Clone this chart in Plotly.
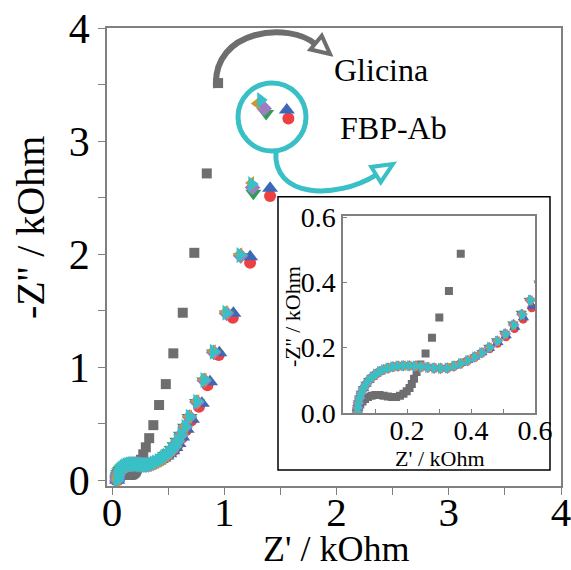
import plotly.graph_objects as go
import math

# ---------------- data (kOhm) ----------------
gly_x = [0.042, 0.045, 0.049, 0.054, 0.061, 0.069, 0.078, 0.089, 0.101, 0.114, 0.127, 0.140,
         0.153, 0.166, 0.178, 0.189, 0.199, 0.208, 0.215, 0.222, 0.230, 0.242, 0.258, 0.278,
         0.301, 0.331, 0.368, 0.419, 0.479, 0.546, 0.630, 0.733, 0.844, 0.945]
gly_y = [0.002, 0.008, 0.016, 0.025, 0.034, 0.042, 0.048, 0.052, 0.054, 0.054, 0.052, 0.050,
         0.048, 0.048, 0.052, 0.058, 0.066, 0.076, 0.088, 0.104, 0.125, 0.148, 0.182, 0.230,
         0.292, 0.373, 0.488, 0.666, 0.851, 1.123, 1.482, 2.012, 2.714, 3.513]

# common high-frequency part of the FBP-Ab curves
ab_low_x = [0.045, 0.046, 0.048, 0.052, 0.057, 0.064, 0.072, 0.081, 0.091, 0.102, 0.114, 0.127,
            0.141, 0.156, 0.172, 0.189, 0.207, 0.226, 0.245, 0.265, 0.285, 0.305, 0.326, 0.347,
            0.368, 0.390, 0.412, 0.434]
ab_low_y = [0.000, 0.015, 0.030, 0.045, 0.060, 0.074, 0.087, 0.099, 0.109, 0.118, 0.126, 0.132,
            0.137, 0.141, 0.143, 0.144, 0.144, 0.143, 0.141, 0.139, 0.137, 0.136, 0.137, 0.143,
            0.151, 0.160, 0.171, 0.184]

# low-frequency part of each FBP-Ab curve
red_x = [0.458, 0.483, 0.509, 0.536, 0.563, 0.590, 0.622, 0.660, 0.705, 0.775, 0.850, 0.951, 1.076, 1.230, 1.408, 1.571]
red_y = [0.196, 0.213, 0.233, 0.258, 0.287, 0.322, 0.377, 0.445, 0.530, 0.650, 0.840, 1.108, 1.438, 1.924, 2.514, 3.200]
blue_x = [0.458, 0.484, 0.510, 0.537, 0.564, 0.592, 0.625, 0.665, 0.712, 0.800, 0.873, 0.956, 1.081, 1.230, 1.408, 1.557]
blue_y = [0.198, 0.215, 0.236, 0.262, 0.291, 0.326, 0.383, 0.452, 0.540, 0.681, 0.872, 1.128, 1.477, 1.977, 2.582, 3.274]
green_x = [0.456, 0.480, 0.505, 0.531, 0.557, 0.582, 0.613, 0.650, 0.690, 0.757, 0.822, 0.908, 1.022, 1.148, 1.259, 1.373]
green_y = [0.201, 0.221, 0.244, 0.272, 0.305, 0.345, 0.398, 0.470, 0.555, 0.688, 0.878, 1.125, 1.470, 1.978, 2.538, 3.245]
purple_x = [0.457, 0.482, 0.507, 0.533, 0.559, 0.585, 0.614, 0.651, 0.690, 0.756, 0.821, 0.905, 1.019, 1.145, 1.252, 1.355]
purple_y = [0.200, 0.220, 0.242, 0.270, 0.302, 0.345, 0.400, 0.472, 0.560, 0.692, 0.884, 1.132, 1.478, 1.986, 2.590, 3.289]
gold_x = [0.458, 0.483, 0.508, 0.534, 0.560, 0.586, 0.614, 0.648, 0.685, 0.750, 0.815, 0.897, 1.008, 1.133, 1.238, 1.290]
gold_y = [0.200, 0.219, 0.241, 0.268, 0.300, 0.344, 0.401, 0.476, 0.565, 0.700, 0.892, 1.142, 1.488, 2.000, 2.630, 3.333]
cyan_x = [0.458, 0.483, 0.508, 0.534, 0.560, 0.586, 0.615, 0.651, 0.689, 0.755, 0.820, 0.903, 1.016, 1.141, 1.245, 1.325]
cyan_y = [0.200, 0.219, 0.241, 0.268, 0.300, 0.345, 0.400, 0.474, 0.562, 0.695, 0.887, 1.137, 1.482, 1.992, 2.620, 3.363]

main_ticks = [0, 1, 2, 3, 4]
inset_xticks = [0.1, 0.2, 0.3, 0.4, 0.5, 0.6]
inset_xtext = ["", "0.2", "", "0.4", "", "0.6"]
inset_yticks = [0.0, 0.2, 0.4, 0.6]
inset_ytext = ["0.0", "0.2", "0.4", "0.6"]

FONT = "Liberation Serif"
GRAY = "#6e6e70"
CYAN = "#38c0c6"
series = [
    ("red", red_x, red_y, "circle", "#ee4040", 12, 9),
    ("blue", blue_x, blue_y, "triangle-up", "#3d68b7", 14, 10),
    ("green", green_x, green_y, "triangle-down", "#2e9e57", 14, 10),
    ("purple", purple_x, purple_y, "diamond", "#a07cc0", 12, 9),
    ("gold", gold_x, gold_y, "triangle-left", "#cf9630", 12, 9),
    ("cyan", cyan_x, cyan_y, "triangle-right", CYAN, 14, 10),
]

fig = go.Figure()
for axes in ("main", "inset"):
    xa, ya = ("x", "y") if axes == "main" else ("x2", "y2")
    fig.add_trace(go.Scatter(x=gly_x, y=gly_y, mode="markers", xaxis=xa, yaxis=ya,
                             marker=dict(symbol="square", size=10 if axes == "main" else 8,
                                         color=GRAY), showlegend=False))
    for name, sx, sy, sym, col, s_main, s_in in series:
        fig.add_trace(go.Scatter(x=ab_low_x + sx, y=ab_low_y + sy, mode="markers",
                                 xaxis=xa, yaxis=ya,
                                 marker=dict(symbol=sym, size=s_main if axes == "main" else s_in,
                                             color=col), showlegend=False))

# ---------------- layout ----------------
L, R, T, B = 107, 10, 28, 84
W, H = 571, 570
PW, PH = W - L - R, H - T - B

def px(x):
    return (x - L) / PW

def py(y):
    return (H - B - y) / PH

axis_common = dict(showgrid=False, zeroline=False, showline=True, mirror=True, automargin=False,
                   linecolor="#808080", linewidth=1.5, tickcolor="#808080",
                   ticklabeloverflow="allow")

fig.update_layout(
    width=W, height=H, margin=dict(l=L, r=R, t=T, b=B, autoexpand=False),
    paper_bgcolor="white", plot_bgcolor="rgba(0,0,0,0)",
    font=dict(family=FONT, color="black"),
    xaxis=dict(range=[-0.045, 4], tickvals=main_ticks, ticks="outside", ticklen=7,
               minor=dict(dtick=0.5, ticks="outside", ticklen=7, tickcolor="#808080"),
               tickfont=dict(size=41, family=FONT), ticklabelstandoff=-18,
               **axis_common),
    yaxis=dict(range=[-0.05, 4], tickvals=main_ticks, ticks="outside", ticklen=7,
               minor=dict(dtick=0.5, ticks="outside", ticklen=7, tickcolor="#808080"),
               tickfont=dict(size=42, family=FONT),
               **axis_common),
    xaxis2=dict(domain=[px(343), px(535)], anchor="y2", range=[0, 0.6],
                tickvals=inset_xticks, ticktext=inset_xtext, ticks="inside", ticklen=4,
                tickfont=dict(size=28, family=FONT), ticklabelstandoff=-8,
                **axis_common),
    yaxis2=dict(domain=[py(412.7), py(215.5)], anchor="x2", range=[0, 0.605],
                tickvals=inset_yticks, ticktext=inset_ytext, ticks="inside", ticklen=4,
                tickfont=dict(size=28, family=FONT),
                **axis_common),
)

def arrowhead(tip, d, length, half):
    n = math.hypot(*d)
    ux, uy = d[0] / n, d[1] / n
    bx, by = tip[0] - length * ux, tip[1] - length * uy
    c1 = (bx - half * uy, by + half * ux)
    c2 = (bx + half * uy, by - half * ux)
    pts = [tip, c1, c2]
    return "M " + " L ".join(f"{px(a):.4f},{py(b):.4f}" for a, b in pts) + " Z"

def curve(p0, c1, c2, p1):
    return (f"M {px(p0[0]):.4f},{py(p0[1]):.4f} C {px(c1[0]):.4f},{py(c1[1]):.4f} "
            f"{px(c2[0]):.4f},{py(c2[1]):.4f} {px(p1[0]):.4f},{py(p1[1]):.4f}")

shapes = [
    dict(type="rect", xref="paper", yref="paper", x0=px(278), x1=px(550), y0=py(470), y1=py(196.7),
         line=dict(color="black", width=1.5), layer="above"),
    dict(type="path", xref="paper", yref="paper", path=curve((216, 88), (212, 28), (290, 22), (315, 44)),
         line=dict(color=GRAY, width=6)),
    dict(type="path", xref="paper", yref="paper", path=arrowhead((330, 54), (0.77, 0.63), 18, 9),
         line=dict(color=GRAY, width=4), fillcolor="white"),
    dict(type="circle", xref="paper", yref="paper", x0=px(238), x1=px(306), y0=py(151), y1=py(83),
         line=dict(color=CYAN, width=5)),
    dict(type="path", xref="paper", yref="paper", path=curve((276, 151), (272, 198), (335, 200), (376, 175)),
         line=dict(color=CYAN, width=5)),
    dict(type="path", xref="paper", yref="paper", path=arrowhead((393, 164), (0.849, -0.528), 20, 9),
         line=dict(color=CYAN, width=4), fillcolor="white"),
]
fig.update_layout(shapes=shapes)

def label(text, x, y, size, angle=0):
    fig.add_annotation(text=text, xref="paper", yref="paper", x=px(x), y=py(y),
                       xanchor="center", yanchor="middle", showarrow=False, textangle=angle,
                       font=dict(size=size, family=FONT, color="black"))

label("Glicina", 381, 70, 32)
label("FBP-Ab", 393, 128, 32)
label("Z' / kOhm", 336, 549, 36)
label("-Z'' / kOhm", 30, 228, 40, -90)
label("Z' / kOhm", 440, 458, 22)
label("-Z'' / kOhm", 292, 317, 22, -90)

fig.write_html("out.html")
